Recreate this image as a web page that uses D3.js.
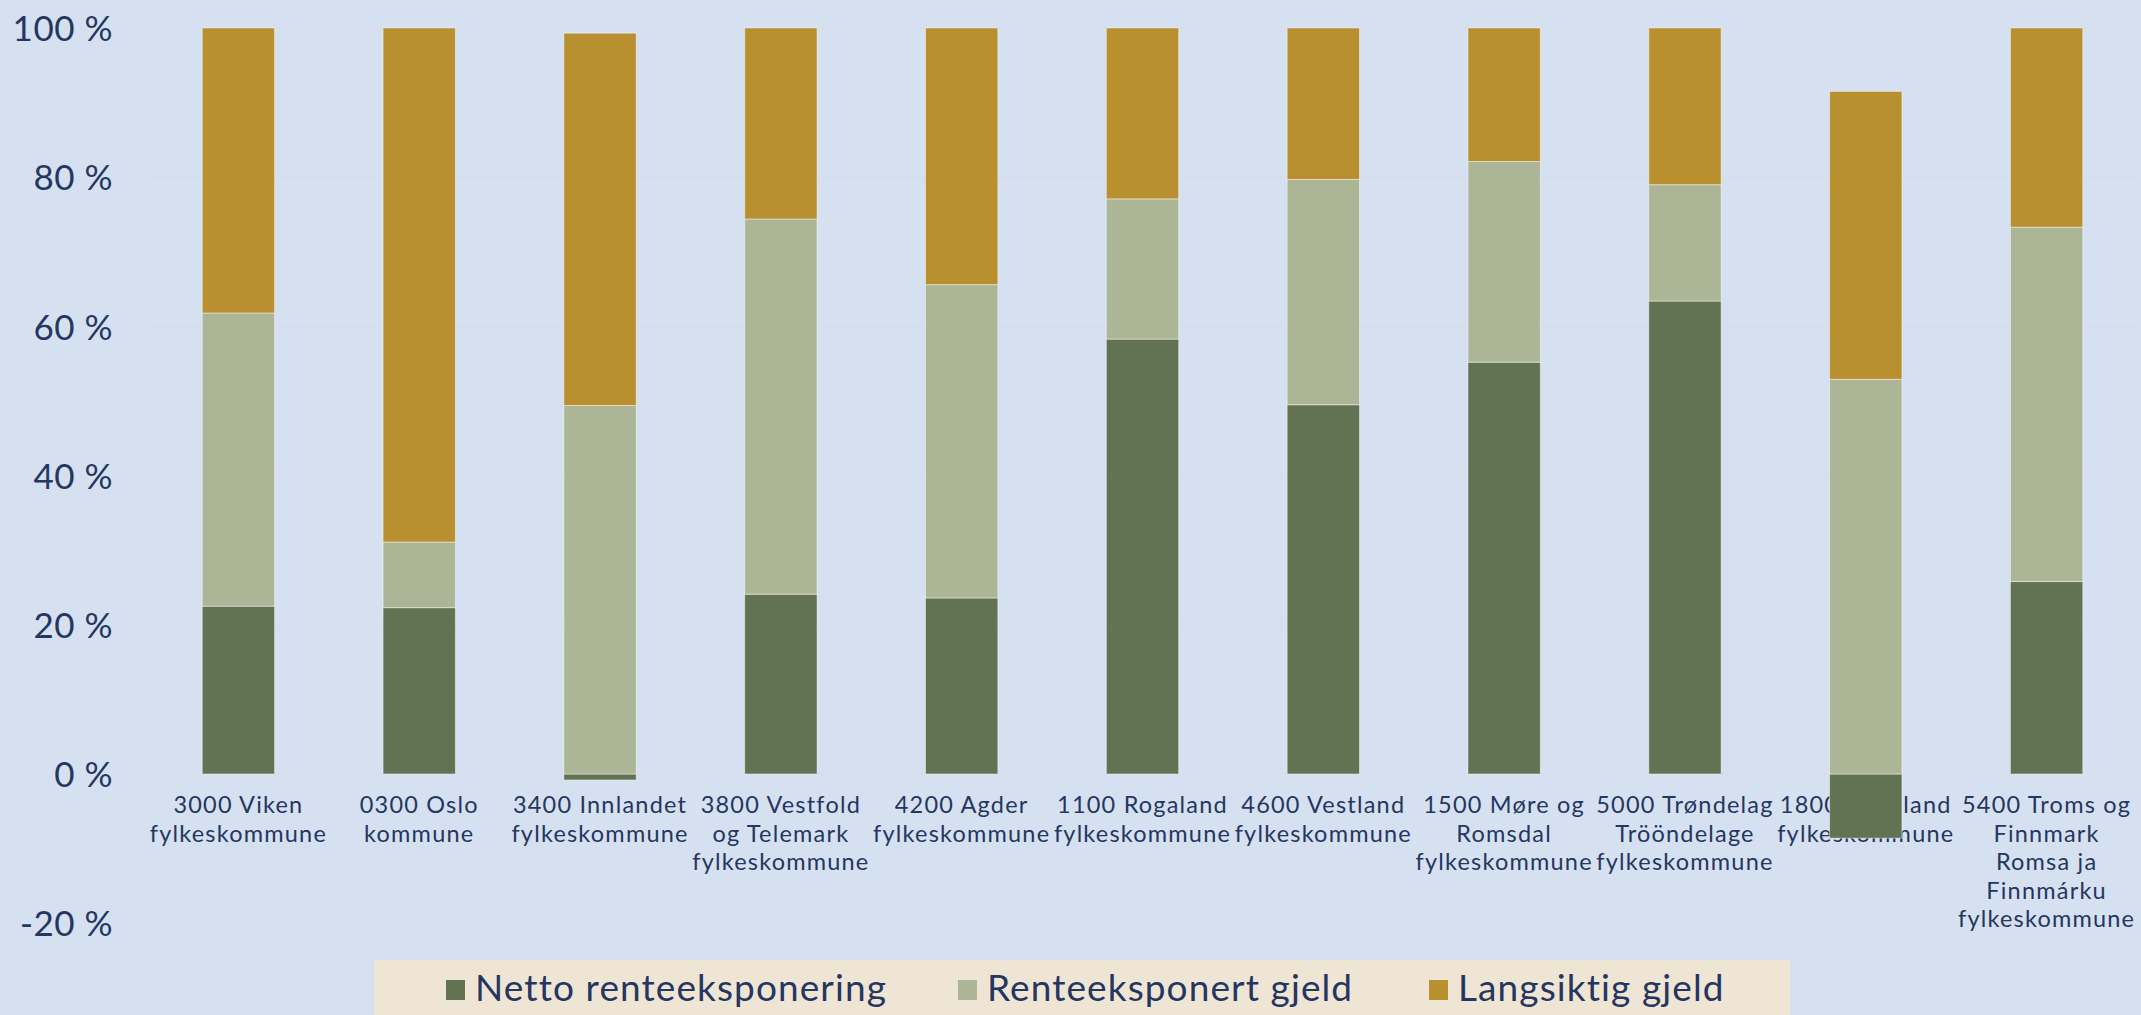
<!DOCTYPE html>
<html>
<head>
<meta charset="utf-8">
<script src="https://cdn.jsdelivr.net/npm/d3@7"></script>
<style>
  body { margin: 0; background: #d5e1f0; }
  text { font-family: Lato, "Open Sans", sans-serif; fill: #253660; }
</style>
</head>
<body>
<script>
var width = 2141;
var height = 1015;

// data
var categories = [
    "3000 Viken\nfylkeskommune",
    "0300 Oslo\nkommune",
    "3400 Innlandet\nfylkeskommune",
    "3800 Vestfold\nog Telemark\nfylkeskommune",
    "4200 Agder\nfylkeskommune",
    "1100 Rogaland\nfylkeskommune",
    "4600 Vestland\nfylkeskommune",
    "1500 Møre og\nRomsdal\nfylkeskommune",
    "5000 Trøndelag\nTrööndelage\nfylkeskommune",
    "1800 Nordland\nfylkeskommune",
    "5400 Troms og\nFinnmark\nRomsa ja\nFinnmárku\nfylkeskommune"
];
var netto = [22.5, 22.3, -0.8, 24.1, 23.6, 58.3, 49.5, 55.2, 63.4, -8.6, 25.8];
var renteeksponert = [39.3, 8.8, 49.4, 50.3, 42.0, 18.8, 30.2, 26.9, 15.6, 52.9, 47.5];
var langsiktig = [38.2, 68.9, 49.9, 25.6, 34.4, 22.9, 20.3, 17.9, 21.0, 38.6, 26.7];
var seriesNames = ["Netto renteeksponering", "Renteeksponert gjeld", "Langsiktig gjeld"];
var colors = ["#617352", "#adb597", "#b89030"];
var yTicks = [-20, 0, 20, 40, 60, 80, 100];

var rows = categories.map(function(c, i) {
    return { cat: c, n: netto[i], r: renteeksponert[i], l: langsiktig[i] };
});

var svg = d3.select("body")
    .append("svg")
    .attr("width", width)
    .attr("height", height);

var x = d3.scaleBand()
    .domain(categories)
    .range([148, 2137])
    .paddingInner(0.6)
    .paddingOuter(0.3);

var y = d3.scaleLinear()
    .domain([0, 100])
    .range([774, 28]);

// gridlines
svg.append("g")
    .selectAll("line")
    .data(yTicks)
    .enter().append("line")
    .attr("x1", 148)
    .attr("x2", 2137)
    .attr("y1", function(d) { return y(d); })
    .attr("y2", function(d) { return y(d); })
    .attr("stroke", "#d9dcea")
    .attr("stroke-width", 2);

// y axis
var yAxis = svg.append("g")
    .attr("transform", "translate(148,0)")
    .call(d3.axisLeft(y).tickValues(yTicks).tickSize(0).tickPadding(35)
        .tickFormat(function(d) { return d + " %"; }));
yAxis.select(".domain").remove();
yAxis.selectAll("text")
    .attr("font-size", 35)
    .attr("font-family", "Lato, sans-serif")
    .attr("fill", "#253660")
    .attr("letter-spacing", 0.5)
    .attr("dy", "0.36em");

// category labels (drawn under the bars, as in the original)
var labels = svg.append("g")
    .selectAll("text")
    .data(categories)
    .enter().append("text")
    .attr("text-anchor", "middle")
    .attr("font-size", 23.5)
    .attr("letter-spacing", 1.2)
    .attr("x", function(d) { return x(d) + x.bandwidth() / 2; })
    .attr("y", 813);
labels.selectAll("tspan")
    .data(function(d) { return d.split("\n"); })
    .enter().append("tspan")
    .attr("x", function() { return d3.select(this.parentNode).attr("x"); })
    .attr("dy", function(d, i) { return i === 0 ? 0 : 28.5; })
    .text(function(d) { return d; });

// stacked bars
var stack = d3.stack()
    .keys(["n", "r", "l"])
    .offset(d3.stackOffsetDiverging);
var series = stack(rows);

svg.append("g")
    .selectAll("g")
    .data(series)
    .enter().append("g")
    .attr("fill", function(d, i) { return colors[i]; })
    .selectAll("rect")
    .data(function(d) { return d; })
    .enter().append("rect")
    .attr("x", function(d) { return x(d.data.cat); })
    .attr("width", x.bandwidth())
    .attr("y", function(d) { return y(Math.max(d[0], d[1])); })
    .attr("height", function(d) { return Math.abs(y(d[0]) - y(d[1])); })
    .attr("stroke", "rgba(255,255,255,0.45)")
    .attr("stroke-width", 1);

// legend
var legend = svg.append("g");
legend.append("rect")
    .attr("x", 374)
    .attr("y", 960)
    .attr("width", 1416)
    .attr("height", 60)
    .attr("fill", "#efe5d5");

var legendX = [446, 958, 1429];
var items = legend.selectAll("g.item")
    .data(seriesNames)
    .enter().append("g")
    .attr("class", "item")
    .attr("transform", function(d, i) { return "translate(" + legendX[i] + ",0)"; });
items.append("rect")
    .attr("x", 0)
    .attr("y", 980)
    .attr("width", 19)
    .attr("height", 20)
    .attr("fill", function(d, i) { return colors[i]; });
items.append("text")
    .attr("x", 29)
    .attr("y", 1001)
    .attr("font-size", 37)
    .attr("letter-spacing", 1.1)
    .text(function(d) { return d; });
</script>
</body>
</html>
